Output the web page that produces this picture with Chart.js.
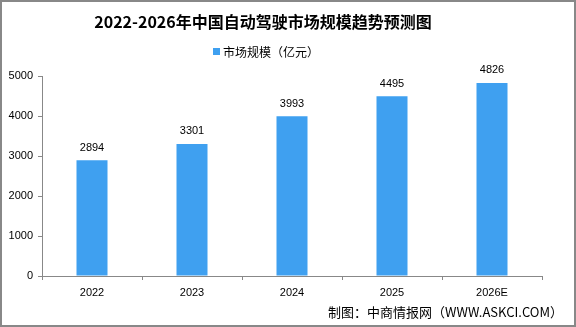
<!DOCTYPE html>
<html>
<head>
<meta charset="utf-8">
<script src="https://cdn.jsdelivr.net/npm/chart.js@4/dist/chart.umd.min.js"></script>
<style>
  html,body{margin:0;padding:0;background:#fff;}
  #wrap{width:576px;height:327px;position:relative;}
</style>
</head>
<body>
<div id="wrap"><canvas id="myChart" width="576" height="327"></canvas></div>
<script>
var years = ['2022', '2023', '2024', '2025', '2026E'];
var scale = [2894, 3301, 3993, 4495, 4826];
var seriesName = '市场规模（亿元）';
var chartTitle = '2022-2026年中国自动驾驶市场规模趋势预测图';
var footNote = '制图：中商情报网（WWW.ASKCI.COM）';

var cjk = '"Noto Sans CJK SC", "Noto Sans", sans-serif';
var num = '"Liberation Sans", "DejaVu Sans", sans-serif';

// title, legend, footer, value labels, frame
var extras = {
  id: 'extras',
  afterDraw: function (chart) {
    var ctx = chart.ctx;
    ctx.save();
    ctx.fillStyle = '#000';
    ctx.textAlign = 'center';
    ctx.textBaseline = 'middle';
    ctx.font = 'bold 16px ' + cjk;
    ctx.fillText(chartTitle, 263, 22);

    ctx.font = '12px ' + cjk;
    ctx.textAlign = 'left';
    ctx.fillStyle = '#3FA0F0';
    ctx.fillRect(213, 48, 7, 7);
    ctx.fillStyle = '#000';
    ctx.fillText(seriesName, 223, 52);

    ctx.font = '13px ' + cjk;
    ctx.textAlign = 'right';
    ctx.fillText(footNote, 563, 312);

    ctx.font = '11px ' + num;
    ctx.textAlign = 'center';
    ctx.textBaseline = 'bottom';
    var meta = chart.getDatasetMeta(0);
    meta.data.forEach(function (bar, i) {
      ctx.fillText(scale[i], bar.x, bar.y - 7);
    });

    ctx.strokeStyle = '#888';
    ctx.lineWidth = 2;
    ctx.strokeRect(1, 1, 574, 325);
    ctx.restore();
  }
};

var ctx = document.getElementById('myChart').getContext('2d');
var myChart = new Chart(ctx, {
  type: 'bar',
  data: {
    labels: years,
    datasets: [{
      label: seriesName,
      data: scale,
      backgroundColor: '#3FA0F0',
      barPercentage: 0.31,
      categoryPercentage: 1
    }]
  },
  options: {
    responsive: false,
    animation: false,
    layout: { padding: { top: 76, right: 34, bottom: 0, left: 0 } },
    plugins: {
      legend: { display: false },
      title: { display: false },
      tooltip: { enabled: false }
    },
    scales: {
      x: {
        grid: { display: true, drawOnChartArea: false, offset: true, color: '#888', tickLength: 4 },
        border: { color: '#888', width: 1 },
        ticks: { color: '#000', font: { size: 11, family: num }, padding: 6 },
        afterFit: function (s) { s.height = 51; }
      },
      y: {
        min: 0, max: 5000,
        grid: { display: true, drawOnChartArea: false, color: '#888', tickLength: 4 },
        border: { color: '#888', width: 1 },
        ticks: {
          stepSize: 1000, color: '#000', font: { size: 11, family: num }, padding: 5,
          callback: function (v) { return String(v); }
        },
        afterFit: function (s) { s.width = 42; }
      }
    }
  },
  plugins: [extras]
});
</script>
</body>
</html>
